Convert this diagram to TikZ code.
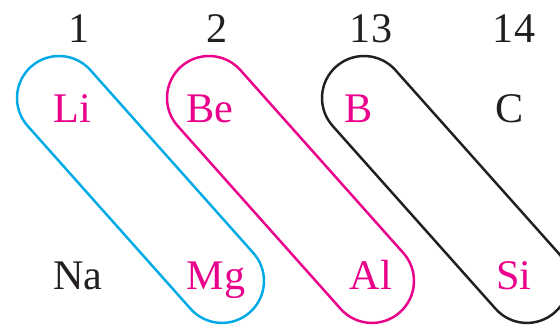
\documentclass[tikz,border=0pt]{standalone}
\usepackage{fontspec}
\setmainfont{Liberation Serif}
\definecolor{capblue}{RGB}{0,170,230}
\definecolor{cappink}{RGB}{234,0,138}
\definecolor{capblack}{RGB}{35,31,32}
\tikzset{
  lbl/.style={anchor=base, inner sep=0pt, font=\fontsize{24}{28}\selectfont},
  el/.style={lbl, text=cappink},
  plain/.style={lbl, text=capblack},
  capline/.style={draw=#1, line width=1.4pt}
}
\newcommand{\capsuleat}[2]{%
  \begin{scope}[shift={#1}, rotate=-48.3, x=0.02cm, y=0.02cm]
    \draw[capline=#2] (0,42) -- (245,42) arc[start angle=90, end angle=-90, radius=42]
      -- (0,-42) arc[start angle=270, end angle=90, radius=42] -- cycle;
  \end{scope}}
\begin{document}
\begin{tikzpicture}[x=0.02cm, y=-0.02cm]
\useasboundingbox (0,0) rectangle (560,325);
\clip (0,0) rectangle (560,325);
% group numbers
\node[plain] (g1) at (79,42) {1};
\node[plain] (g2) at (217,42) {2};
\node[plain] (g13) at (371,42) {13};
\node[plain] (g14) at (514,42) {14};
% capsules
\capsuleat{(59,98)}{capblue}
\capsuleat{(209,98)}{cappink}
\capsuleat{(364,98)}{capblack}
% elements
\node[el] (Li) at (72,122) {Li};
\node[el] (Be) at (210,122) {Be};
\node[el] (B) at (359,122) {B};
\node[plain] (C) at (510,122) {C};
\node[plain] (Na) at (78,289) {Na};
\node[el] (Mg) at (216,289) {Mg};
\node[el] (Al) at (371,289) {Al};
\node[el] (Si) at (514,289) {Si};
\end{tikzpicture}
\end{document}
